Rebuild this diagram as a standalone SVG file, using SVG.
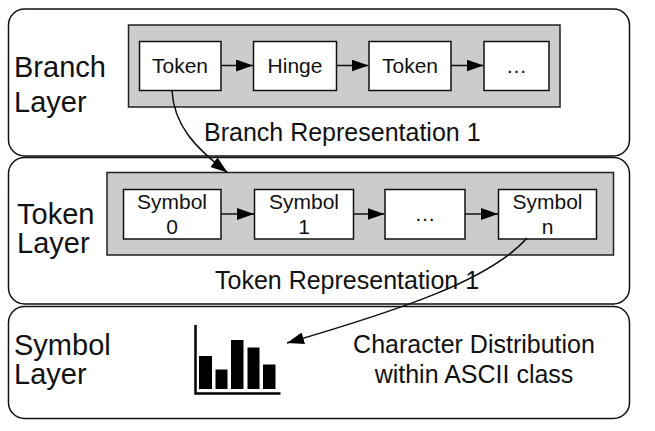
<svg xmlns="http://www.w3.org/2000/svg" width="655" height="431" viewBox="0 0 655 431">
<style>
.layer{fill:#fff;stroke:#111;stroke-width:1.5}
.rep{fill:#cccccc;stroke:#222;stroke-width:1.5}
.box{fill:#fff;stroke:#111;stroke-width:1.5}
text{font-family:"Liberation Sans",Arial,Helvetica,sans-serif;fill:#111}
.lbl{font-size:29px}
.cap{font-size:25px}
.in{font-size:21px;text-anchor:middle}
.conn{fill:none;stroke:#111;stroke-width:1.5}
.bar{fill:#000}
</style>
<defs>
<marker id="ah" viewBox="0 0 17 12" refX="17" refY="6" markerWidth="17" markerHeight="12" orient="auto" markerUnits="userSpaceOnUse">
<path d="M0,0 L17,6 L0,12 z" fill="#000"/>
</marker>
</defs>
<rect width="655" height="431" fill="#fff"/>

<g id="branch-layer">
<rect class="layer" x="8.5" y="9" width="621" height="147" rx="16"/>
<text class="lbl" x="14" y="77">Branch</text>
<text class="lbl" x="14" y="112">Layer</text>
<rect class="rep" x="128.5" y="25" width="431.5" height="82"/>
<text class="cap" x="204" y="140.5">Branch Representation 1</text>
</g>
<g id="b-token1"><rect class="box" x="139.5" y="41.5" width="81.5" height="49"/><text class="in" x="180" y="72.5">Token</text></g>
<g id="b-hinge"><rect class="box" x="253.5" y="41.5" width="83" height="49"/><text class="in" x="295" y="72.5">Hinge</text></g>
<g id="b-token2"><rect class="box" x="369" y="41.5" width="82" height="49"/><text class="in" x="410" y="72.5">Token</text></g>
<g id="b-more"><rect class="box" x="484" y="41.5" width="65" height="49"/><text class="in" x="516.5" y="72.5">…</text></g>

<g id="token-layer">
<rect class="layer" x="8.5" y="157.5" width="621" height="146.5" rx="16"/>
<text class="lbl" x="17" y="224">Token</text>
<text class="lbl" x="17" y="253">Layer</text>
<rect class="rep" x="107" y="172.5" width="506.5" height="82.5"/>
<text class="cap" x="215" y="289">Token Representation 1</text>
</g>
<g id="t-sym0"><rect class="box" x="123.5" y="189.5" width="97.5" height="49.5"/><text class="in" x="172" y="208.5">Symbol</text><text class="in" x="172" y="234">0</text></g>
<g id="t-sym1"><rect class="box" x="254.5" y="189.5" width="99" height="49.5"/><text class="in" x="304" y="208.5">Symbol</text><text class="in" x="304" y="234">1</text></g>
<g id="t-more"><rect class="box" x="385" y="189.5" width="80" height="49.5"/><text class="in" x="425" y="221">…</text></g>
<g id="t-symn"><rect class="box" x="498.5" y="189.5" width="98" height="49.5"/><text class="in" x="547.5" y="208.5">Symbol</text><text class="in" x="547.5" y="234">n</text></g>

<g id="symbol-layer">
<rect class="layer" x="8.5" y="306.5" width="621" height="112" rx="16"/>
<text class="lbl" x="14" y="355">Symbol</text>
<text class="lbl" x="14" y="384">Layer</text>
<text class="cap" x="474" y="352.5" text-anchor="middle">Character Distribution</text>
<text class="cap" x="474" y="382.5" text-anchor="middle">within ASCII class</text>
</g>
<g id="histogram">
<rect class="bar" x="199" y="356" width="13" height="33"/>
<rect class="bar" x="215.5" y="369.5" width="12" height="19.5"/>
<rect class="bar" x="231" y="340" width="12.5" height="49"/>
<rect class="bar" x="247.5" y="347.5" width="12" height="41.5"/>
<rect class="bar" x="263" y="364.5" width="12.5" height="24.5"/>
<path d="M195.5,325 V393.5 H280.5" fill="none" stroke="#000" stroke-width="2.5"/>
</g>

<g id="connectors">
<path class="conn" d="M221,65.5 H253" marker-end="url(#ah)"/>
<path class="conn" d="M336.5,65.5 H368.5" marker-end="url(#ah)"/>
<path class="conn" d="M451,65.5 H483.5" marker-end="url(#ah)"/>
<path class="conn" d="M221,214 H254" marker-end="url(#ah)"/>
<path class="conn" d="M353.5,214 H384.5" marker-end="url(#ah)"/>
<path class="conn" d="M465,214 H498" marker-end="url(#ah)"/>
<path class="conn" d="M172,91 C174,125 195,148 227.5,172.5" marker-end="url(#ah)"/>
<path class="conn" d="M527,238 C490,280 400,310 287,343" marker-end="url(#ah)"/>
</g>
</svg>
